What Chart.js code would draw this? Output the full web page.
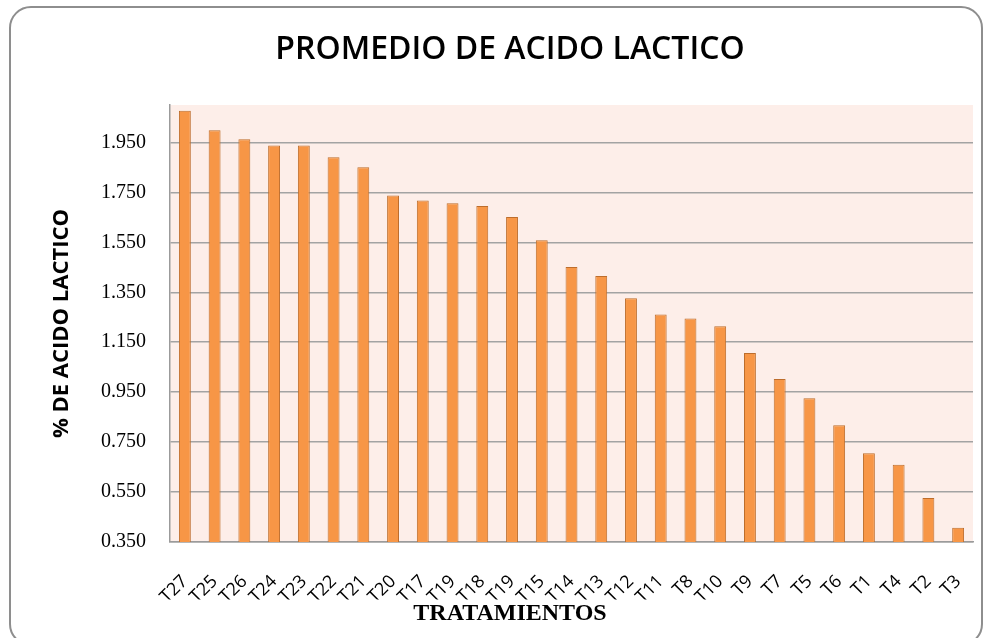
<!DOCTYPE html>
<html>
<head>
<meta charset="utf-8">
<script src="https://cdn.jsdelivr.net/npm/chart.js@4"></script>
<style>
  html, body { margin: 0; padding: 0; background: #fff; }
  #wrap { position: relative; width: 992px; height: 638px; overflow: hidden; }
  #frame {
    position: absolute; left: 9px; top: 6px; width: 974px; height: 640px;
    border: 2px solid #8e8e8e; border-radius: 22px; box-sizing: border-box;
  }
  #chart { position: absolute; left: 0; top: 0; }
</style>
</head>
<body>
<div id="wrap">
  <div id="frame"></div>
  <canvas id="chart" width="992" height="638"></canvas>
</div>
<script>
// data
const tratamientos = ['T27', 'T25', 'T26', 'T24', 'T23', 'T22', 'T21', 'T20', 'T17', 'T19',
  'T18', 'T19', 'T15', 'T14', 'T13', 'T12', 'T11', 'T8', 'T10', 'T9', 'T7', 'T5', 'T6',
  'T1', 'T4', 'T2', 'T3'];
const acidoLactico = [2.077, 1.999, 1.963, 1.938, 1.938, 1.891, 1.851, 1.738, 1.718, 1.707,
  1.696, 1.651, 1.558, 1.451, 1.415, 1.326, 1.261, 1.245, 1.214, 1.107, 1.003, 0.926, 0.818,
  0.705, 0.659, 0.526, 0.407];
const yTicks = [0.35, 0.55, 0.75, 0.95, 1.15, 1.35, 1.55, 1.75, 1.95];

// pink plot background
const plotBg = {
  id: 'plotBg',
  beforeDraw(chart) {
    const a = chart.chartArea;
    const ctx = chart.ctx;
    ctx.save();
    ctx.fillStyle = '#fdeee9';
    ctx.fillRect(a.left, a.top, a.right - a.left, a.bottom - a.top);
    ctx.restore();
  }
};

new Chart(document.getElementById('chart'), {
  type: 'bar',
  data: {
    labels: tratamientos,
    datasets: [{
      data: acidoLactico,
      backgroundColor: '#f79646',
      borderColor: '#bd6d2c',
      borderWidth: 1,
      barPercentage: 0.4,
      categoryPercentage: 1
    }]
  },
  options: {
    responsive: false,
    devicePixelRatio: 1,
    animation: false,
    layout: { padding: { left: 47, right: 19, top: 0, bottom: 0 } },
    plugins: {
      legend: { display: false },
      tooltip: { enabled: false },
      title: {
        display: true,
        text: 'PROMEDIO DE ACIDO LACTICO',
        color: '#000',
        font: { family: 'Open Sans', size: 32, weight: '600', lineHeight: 1.2 },
        padding: { top: 31, bottom: 35.6 }
      },
      subtitle: {
        display: true,
        position: 'bottom',
        text: 'TRATAMIENTOS',
        color: '#000',
        font: { family: 'Liberation Serif', size: 24, weight: 'bold', lineHeight: 1.2 },
        padding: { top: 0, bottom: 9.6 }
      }
    },
    scales: {
      x: {
        grid: { display: false, drawTicks: false },
        border: { color: '#9b9b9b', width: 1.5 },
        ticks: {
          autoSkip: false, minRotation: 45, maxRotation: 45, padding: 29,
          color: '#000',
          font: { family: 'Open Sans', size: 18 }
        },
        afterFit(scale) {
          scale.height = 57.6;
          scale.paddingLeft = 0;
          scale.paddingRight = 0;
        }
      },
      y: {
        min: 0.35,
        max: 2.1,
        afterBuildTicks(scale) { scale.ticks = yTicks.map(v => ({ value: v })); },
        grid: { color: '#a3a3a3', lineWidth: 1.5, drawTicks: false },
        border: { color: '#9b9b9b', width: 1.5 },
        ticks: {
          padding: 24,
          color: '#000',
          font: { family: 'Liberation Serif', size: 20 },
          callback: v => Number(v).toFixed(3)
        },
        title: {
          display: true,
          text: '% DE ACIDO LACTICO',
          color: '#000',
          font: { family: 'Open Sans', size: 22, weight: 'bold' },
          padding: { top: 2, bottom: 0 }
        },
        afterFit(scale) { scale.width = 123; }
      }
    }
  },
  plugins: [plotBg]
});
</script>
</body>
</html>
